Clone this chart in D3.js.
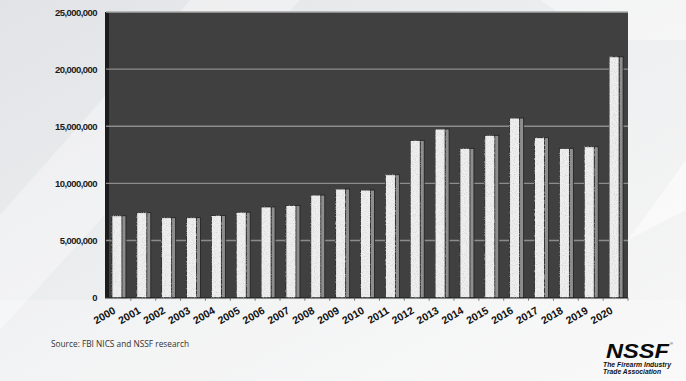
<!DOCTYPE html>
<html><head><meta charset="utf-8">
<script src="https://cdn.jsdelivr.net/npm/d3@7/dist/d3.min.js"></script>
<style>html,body{margin:0;padding:0;background:#eceded;}svg{display:block;}</style>
</head><body>
<svg id="chart" width="686" height="381"></svg>
<script>
const years = ["2000","2001","2002","2003","2004","2005","2006","2007","2008","2009","2010","2011","2012","2013","2014","2015","2016","2017","2018","2019","2020"];
const checks = [7170000,7440000,7000000,7000000,7200000,7480000,7940000,8080000,8980000,9510000,9420000,10760000,13770000,14760000,13070000,14210000,15720000,14000000,13070000,13210000,21080000];
const yTicks = [0,5000000,10000000,15000000,20000000,25000000];
const sourceText = "Source: FBI NICS and NSSF research";

(function(){
const svg = d3.select("#chart");
const W = 686, H = 381;
const defs = svg.append("defs");
const bg = defs.append("linearGradient").attr("id","bg").attr("x1","0").attr("y1","0").attr("x2","1").attr("y2","1");
bg.append("stop").attr("offset","0").attr("stop-color","#e2e3e6");
bg.append("stop").attr("offset","0.5").attr("stop-color","#eeeff0");
bg.append("stop").attr("offset","1").attr("stop-color","#f7f7f7");
svg.append("rect").attr("width",W).attr("height",H).attr("fill","url(#bg)");
svg.append("path").attr("d","M0,215 L190,0 L300,0 L0,330 Z").attr("fill","#ffffff").attr("opacity",0.35);
svg.append("path").attr("d","M540,0 L686,0 L686,40 L600,40 Z").attr("fill","#ffffff").attr("opacity",0.4);
svg.append("path").attr("d","M628,240 L686,160 L686,210 L628,240 Z").attr("fill","#ffffff").attr("opacity",0.5);
svg.append("path").attr("d","M0,381 L0,300 L686,300 L686,381 Z").attr("fill","#ffffff").attr("opacity",0.25);
const f = defs.append("filter").attr("id","speck").attr("x","0").attr("y","0").attr("width","1").attr("height","1");
f.append("feTurbulence").attr("type","fractalNoise").attr("baseFrequency","0.9").attr("numOctaves","1").attr("result","n");
f.append("feColorMatrix").attr("in","n").attr("type","matrix").attr("values","0 0 0 0 0.55  0 0 0 0 0.55  0 0 0 0 0.55  0 0 0 -2.2 1.1").attr("result","m");
f.append("feComposite").attr("in","m").attr("in2","SourceGraphic").attr("operator","in").attr("result","c");
f.append("feMerge").selectAll("feMergeNode").data(["SourceGraphic","c"]).join("feMergeNode").attr("in",d=>d);

const pl = 106, pr = 628, pt = 12, pb = 297.7;
const x = d3.scaleBand().domain(years).range([pl, pr]).paddingInner(0).paddingOuter(0);
const y = d3.scaleLinear().domain([0, 25000000]).range([pb, pt]);

svg.append("rect").attr("x",pl).attr("y",pt).attr("width",pr-pl).attr("height",pb-pt).attr("fill","#404040");
svg.append("rect").attr("x",pl-1).attr("y",pt).attr("width",4).attr("height",pb-pt).attr("fill","#1c1c1c");
svg.append("g").selectAll("line").data(yTicks.filter(d=>d>0)).join("line")
  .attr("x1",pl).attr("x2",pr).attr("y1",d=>y(d)).attr("y2",d=>y(d))
  .attr("stroke",d=>d===25000000?"#a8a8a8":"#8c8c8c").attr("stroke-width",1.4);
svg.append("line").attr("x1",pl-1).attr("x2",pr).attr("y1",pb).attr("y2",pb).attr("stroke","#2a2a2a").attr("stroke-width",1.5);

const faceW = 10, sideW = 4;
const g = svg.append("g");
years.forEach((yr,i)=>{
  const cx = x(yr) + x.bandwidth()/2;
  const x0 = cx - 6.5;
  const yt = y(checks[i]);
  g.append("rect").attr("x",x0+faceW).attr("y",yt).attr("width",sideW).attr("height",pb-yt)
    .attr("fill","#8e8e8e").attr("stroke","#1e1e1e").attr("stroke-width",0.8);
  g.append("rect").attr("x",x0).attr("y",yt).attr("width",faceW).attr("height",pb-yt)
    .attr("fill","#eeeeee").attr("stroke","#1e1e1e").attr("stroke-width",0.8).attr("filter","url(#speck)");
});

const yAxis = d3.axisLeft(y).tickValues(yTicks).tickFormat(d3.format(",")).tickSize(0).tickPadding(9);
const ya = svg.append("g").attr("transform",`translate(${pl},0)`).call(yAxis);
ya.select(".domain").remove();
ya.selectAll("text").attr("font-family","Liberation Sans, Arial, sans-serif").attr("font-weight","bold")
  .attr("font-size","9.5px").attr("letter-spacing","-0.55px").attr("fill","#1a1a1a");

const xAxis = d3.axisBottom(x).tickSize(0).tickPadding(0);
const xa = svg.append("g").attr("transform",`translate(0,${pb})`).call(xAxis);
xa.select(".domain").remove();
xa.selectAll("text").attr("font-family","Liberation Sans, Arial, sans-serif").attr("font-weight","bold")
  .attr("font-size","10.5px").attr("fill","#111").attr("text-anchor","end")
  .attr("x",null).attr("y",null).attr("dy",null).attr("dx",null)
  .attr("transform","translate(-2,15) rotate(-30)");
svg.append("g").selectAll("line").data(years).join("line")
  .attr("x1",d=>x(d)+x.bandwidth()).attr("x2",d=>x(d)+x.bandwidth())
  .attr("y1",pb).attr("y2",pb+3).attr("stroke","#555").attr("stroke-width",0.8);

svg.append("text").attr("x",51).attr("y",347).text(sourceText)
  .attr("font-family","Open Sans, Noto Sans, sans-serif").attr("font-size","9px").attr("fill","#333")
  .attr("textLength",138).attr("lengthAdjust","spacingAndGlyphs");

svg.append("text").attr("x",606).attr("y",357.5).text("NSSF")
  .attr("font-family","Liberation Sans, Arial, sans-serif").attr("font-weight","bold").attr("font-style","italic")
  .attr("font-size","20px").attr("fill","#0a0a0a").attr("textLength",63).attr("lengthAdjust","spacingAndGlyphs");
svg.append("text").attr("x",670).attr("y",345).text("®").attr("font-family","Liberation Sans, Arial, sans-serif").attr("font-size","4px").attr("fill","#111");
svg.append("text").attr("x",603).attr("y",367).text("The Firearm Industry")
  .attr("font-family","Liberation Sans, Arial, sans-serif").attr("font-weight","bold").attr("font-style","italic")
  .attr("font-size","6.5px").attr("fill","#111").attr("textLength",68).attr("lengthAdjust","spacingAndGlyphs");
svg.append("text").attr("x",603).attr("y",373.5).text("Trade Association")
  .attr("font-family","Liberation Sans, Arial, sans-serif").attr("font-weight","bold").attr("font-style","italic")
  .attr("font-size","6.5px").attr("fill","#111").attr("textLength",58).attr("lengthAdjust","spacingAndGlyphs");
})();
</script>
</body></html>
